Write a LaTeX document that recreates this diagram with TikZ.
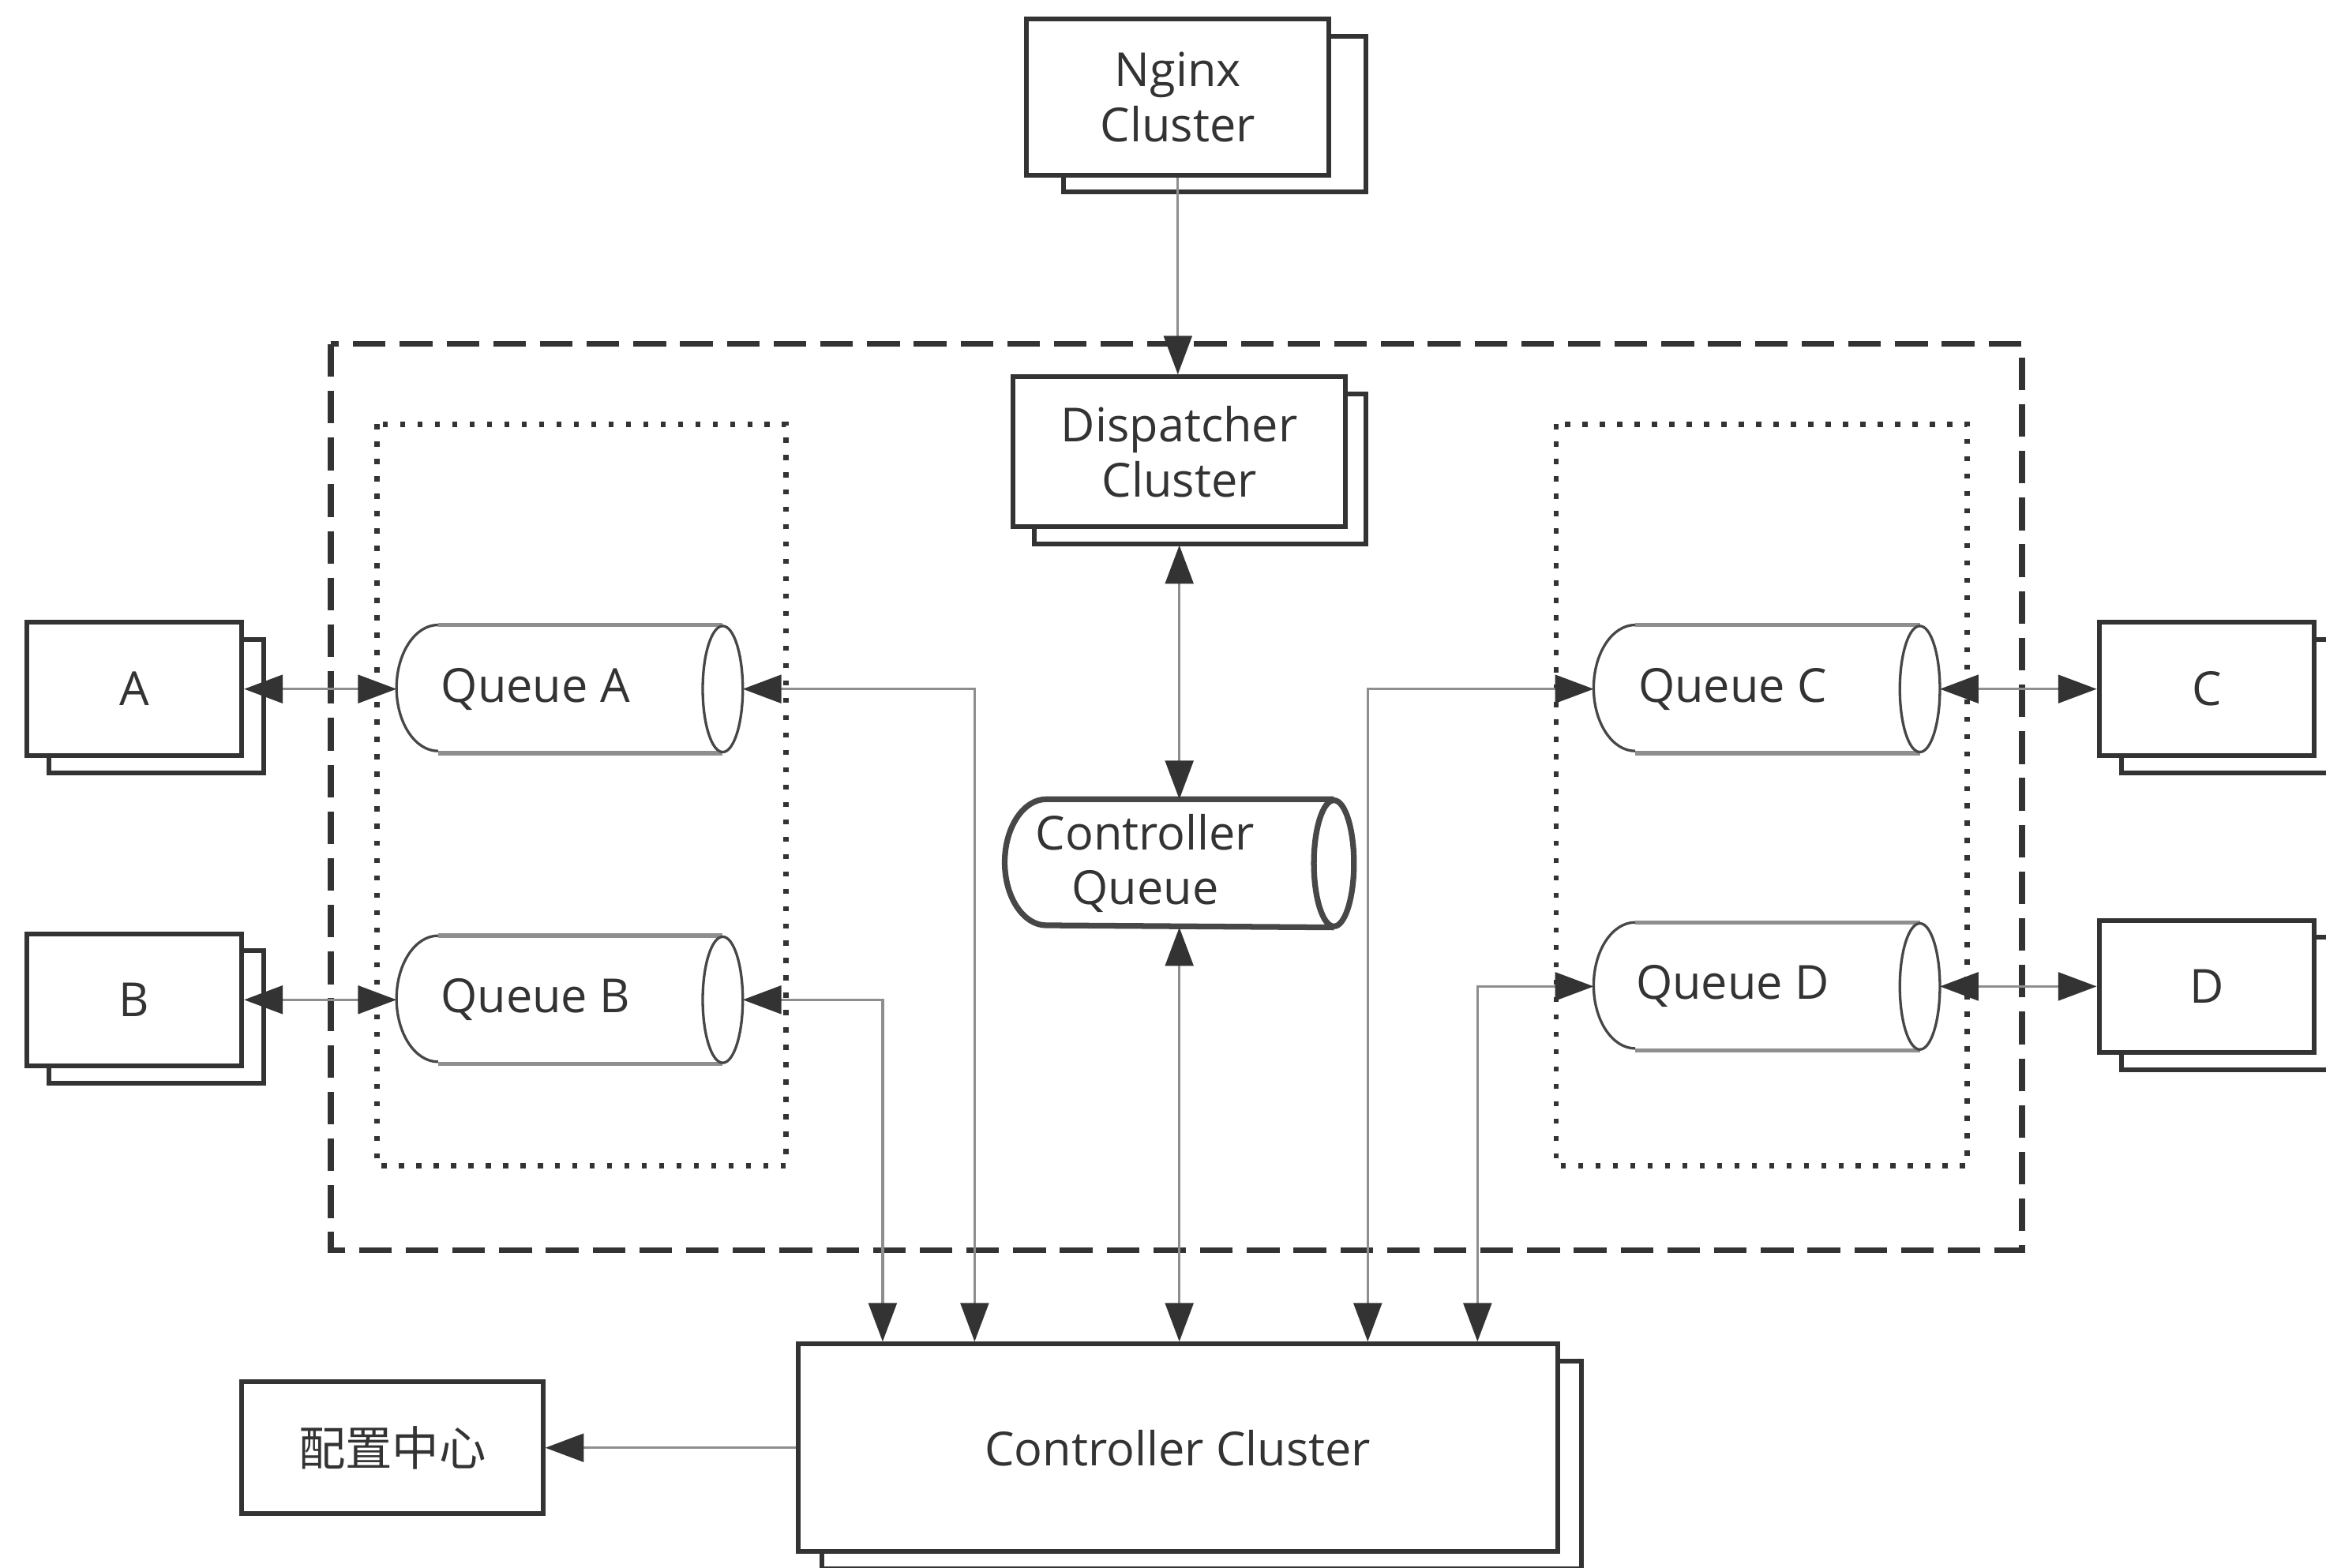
\documentclass[tikz,border=0pt]{standalone}
\usepackage{fontspec}
\setmainfont{Open Sans}
\newfontfamily\cjk{Noto Sans CJK SC}
\usepackage{tikz}
\usetikzlibrary{positioning}
\usetikzlibrary{shapes.geometric,calc}
\usetikzlibrary{arrows.meta,shadows}

\definecolor{ink}{HTML}{333333}
\definecolor{wire}{HTML}{8E8E8E}

\tikzset{
  box/.style={draw=ink, line width=0.9pt, fill=white, align=center, text=ink, inner sep=0pt},
  stackbox/.style={box, copy shadow={shadow xshift=#1, shadow yshift=-0.115cm, opacity=1, fill=white, draw=ink, line width=0.9pt}},
  stackbox/.default=0.15cm,
  queue/.style={minimum width=2.32cm, minimum height=0.85cm, inner sep=0pt},
  qlabel/.style={text=ink, align=center, xshift=-0.23cm},
  qend/.style={draw=ink!90, line width=0.5pt},
  qside/.style={draw=wire, line width=0.8pt},
  link/.style={draw=wire, line width=0.5pt, >={Triangle[length=2.6mm, width=1.9mm, color=ink]}},
  frame/.style={ink, line width=1.1pt, dash pattern=on 0.22cm off 0.095cm},
  group/.style={ink, line width=1pt, dash pattern=on 0.035cm off 0.082cm},
}

\begin{document}
\begin{tikzpicture}[font=\fontsize{9}{10.5}\selectfont]
    \useasboundingbox (0,0) rectangle (15.68,10.57);
    % outer and inner frames
    \draw[frame] (2.23,8.25) rectangle (13.63,2.14);
    \draw[group] (2.54,7.71) rectangle (5.30,2.71);
    \draw[group] (10.49,7.71) rectangle (13.26,2.71);

    % middle column
    \node[stackbox=0.25cm, minimum width=2.04cm, minimum height=1.05cm] (nginx) at (7.94,9.915) {Nginx\\Cluster};
    \node[stackbox=0.14cm, minimum width=2.24cm, minimum height=1.01cm] (disp) at (7.95,7.525) {Dispatcher\\Cluster};
    \node[queue, minimum width=2.34cm, label={[qlabel]center:Controller\\Queue}] (cq) at (7.95,4.75) {};
    \node[stackbox=0.16cm, minimum width=5.12cm, minimum height=1.40cm] (cc) at (7.94,0.81) {Controller Cluster};
    \node[box, minimum width=2.03cm, minimum height=0.89cm] (cfg) at (2.645,0.81) {\cjk 配置中心};

    % queues
    \node[queue, label={[qlabel]center:Queue A}] (QA) at (3.84,5.925) {};
    \node[queue, label={[qlabel]center:Queue B}] (QB) at (3.84,3.83) {};
    \node[queue, label={[qlabel]center:Queue C}] (QC) at (11.91,5.925) {};
    \node[queue, label={[qlabel]center:Queue D}] (QD) at (11.91,3.92) {};

    % cylinder outlines
    \foreach \q in {QA,QB,QC,QD} {
      \draw[qside] ([xshift=0.28cm]\q.north west) -- ([xshift=-0.135cm]\q.north east)
                   ([xshift=0.28cm]\q.south west) -- ([xshift=-0.135cm]\q.south east);
      \draw[qend] ([xshift=0.28cm]\q.north west) arc[start angle=90, end angle=270, x radius=0.28cm, y radius=0.425cm]
                  ([xshift=-0.135cm]\q.east) ellipse [x radius=0.135cm, y radius=0.425cm];
    }
    \draw[qend, line width=1.1pt] ([xshift=0.28cm]cq.north west) arc[start angle=90, end angle=270, x radius=0.28cm, y radius=0.425cm]
          -- ([xshift=-0.135cm]cq.south east) ([xshift=-0.135cm]cq.north east) -- ([xshift=0.28cm]cq.north west)
          ([xshift=-0.135cm]cq.east) ellipse [x radius=0.135cm, y radius=0.425cm];

    % clients
    \node[stackbox, minimum width=1.45cm, minimum height=0.90cm] (A) at (0.905,5.925) {A};
    \node[stackbox, minimum width=1.45cm, minimum height=0.89cm] (B) at (0.905,3.83) {B};
    \node[stackbox, minimum width=1.45cm, minimum height=0.90cm] (C) at (14.875,5.925) {C};
    \node[stackbox, minimum width=1.45cm, minimum height=0.89cm] (D) at (14.875,3.92) {D};

    % connectors
    \draw[link,->] (nginx.south) -- (nginx.south |- disp.north);
    \draw[link,<->] ([yshift=-0.11cm]disp.south) -- (disp.south |- cq.north);
    \draw[link,<->] (disp.south |- cq.south) -- (disp.south |- cc.north);
    \draw[link,<->] (A.east) -- (QA.west);
    \draw[link,<->] (B.east) -- (QB.west);
    \draw[link,<->] (QC.east) -- (C.west);
    \draw[link,<->] (QD.east) -- (D.west);
    \draw[link,<->] (QA.east) -| ([xshift=-1.37cm]cc.north);
    \draw[link,<->] (QB.east) -| ([xshift=-1.99cm]cc.north);
    \draw[link,<->] ([xshift=1.28cm]cc.north) |- (QC.west);
    \draw[link,<->] ([xshift=2.02cm]cc.north) |- (QD.west);
    \draw[link,->] (cc.west) -- (cfg.east);
\end{tikzpicture}
\end{document}
